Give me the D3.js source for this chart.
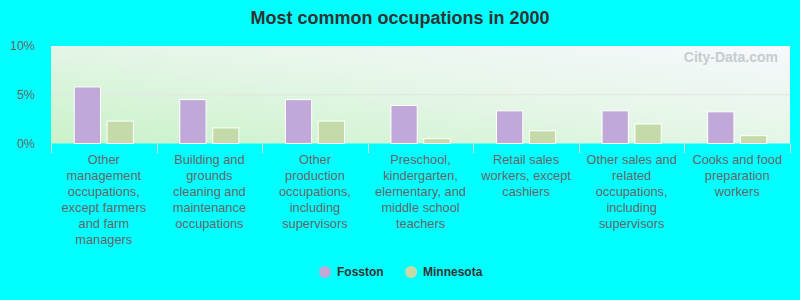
<!DOCTYPE html>
<html><head><meta charset="utf-8">
<script src="https://cdn.jsdelivr.net/npm/d3@7"></script>
<style>
html,body{margin:0;padding:0;background:#00ffff;}
svg{display:block;font-family:"Liberation Sans",Arial,sans-serif;}
</style></head>
<body>
<svg id="chart" width="800" height="300"></svg>
<script>
const title = "Most common occupations in 2000";
const categories = [
  ["Other","management","occupations,","except farmers","and farm","managers"],
  ["Building and","grounds","cleaning and","maintenance","occupations"],
  ["Other","production","occupations,","including","supervisors"],
  ["Preschool,","kindergarten,","elementary, and","middle school","teachers"],
  ["Retail sales","workers, except","cashiers"],
  ["Other sales and","related","occupations,","including","supervisors"],
  ["Cooks and food","preparation","workers"]
];
const seriesNames = ["Fosston","Minnesota"];
const fosston   = [5.8, 4.5, 4.5, 3.9, 3.35, 3.35, 3.25];
const minnesota = [2.3, 1.6, 2.3, 0.5, 1.3, 2.0, 0.8];
const yTicks = [0, 5, 10];
const colors = ["#c0a9d9","#c5daa9"];

const svg = d3.select("#chart");
const m = {left:51, right:10, top:46, bottom:157};
const W = 800, H = 300;
const plotW = W - m.left - m.right, plotBottom = 143.5;

const x0 = d3.scaleBand().domain(d3.range(categories.length)).range([m.left, m.left+plotW]).padding(0);
const bw = x0.bandwidth();
const x1 = d3.scaleBand().domain(seriesNames).range([bw*0.22, bw*0.78]).paddingInner(0.2).paddingOuter(0);
const y = d3.scaleLinear().domain([0,10]).range([plotBottom, m.top]);

const defs = svg.append("defs");
const grad = defs.append("linearGradient").attr("id","bg").attr("x1","0%").attr("y1","100%").attr("x2","100%").attr("y2","0%");
grad.append("stop").attr("offset","0%").attr("stop-color","#c9f2c9");
grad.append("stop").attr("offset","55%").attr("stop-color","#e6f6e8");
grad.append("stop").attr("offset","100%").attr("stop-color","#f6f8fd");

svg.append("rect").attr("x",m.left).attr("y",y(10)).attr("width",plotW).attr("height",plotBottom-y(10)).attr("fill","url(#bg)");

// gridline
svg.append("g").selectAll("line").data([5]).join("line")
  .attr("x1",m.left).attr("x2",m.left+plotW).attr("y1",d=>y(d)).attr("y2",d=>y(d))
  .attr("stroke","#e0e6e0").attr("stroke-width",1);

// watermark
svg.append("text").attr("x",m.left+plotW-12).attr("y",62).attr("text-anchor","end")
  .attr("font-size",14).attr("fill","#c6ccd0").attr("font-weight","bold").text("City-Data.com");

// y axis labels
svg.append("g").selectAll("text").data(yTicks).join("text")
  .attr("x",35).attr("y",d=>y(d)).attr("dy","0.35em").attr("text-anchor","end")
  .attr("font-size",12.5).attr("fill","#666").text(d=>d+"%");

// bars
const data = categories.map((c,i)=>({i, vals:[fosston[i], minnesota[i]]}));
const g = svg.append("g");
g.selectAll("g").data(data).join("g").attr("transform",d=>`translate(${x0(d.i)},0)`)
  .selectAll("rect").data(d=>d.vals.map((v,k)=>({k,v}))).join("rect")
  .attr("x",d=>x1(seriesNames[d.k])).attr("width",x1.bandwidth())
  .attr("y",d=>y(d.v)).attr("height",d=>plotBottom-y(d.v))
  .attr("fill",d=>colors[d.k]).attr("stroke","#fff").attr("stroke-width",1);

// x ticks
const tickPos = d3.range(categories.length+1).map(i=>m.left + i*bw);
svg.append("g").selectAll("line").data(tickPos).join("line")
  .attr("x1",d=>Math.round(d)+0.5).attr("x2",d=>Math.round(d)+0.5).attr("y1",plotBottom).attr("y2",153)
  .attr("stroke","#dde","stroke-width",1);

// x labels
const lab = svg.append("g").selectAll("text").data(categories).join("text")
  .attr("text-anchor","middle").attr("font-size",12.8).attr("fill","#666")
  .attr("transform",(d,i)=>`translate(${x0(i)+bw/2},163.5)`);
lab.selectAll("tspan").data(d=>d).join("tspan").attr("x",0).attr("y",(d,j)=>j*16).text(d=>d);

// title
svg.append("text").attr("x",400).attr("y",24).attr("text-anchor","middle")
  .attr("font-size",18).attr("font-weight","bold").attr("fill","#333").text(title);

// legend
const leg = svg.append("g").selectAll("g").data(seriesNames).join("g")
  .attr("transform",(d,i)=>`translate(${[325,411][i]},272)`);
leg.append("circle").attr("r",6).attr("fill",(d,i)=>colors[i]);
leg.append("text").attr("x",12).attr("dy","0.35em").attr("font-size",12).attr("font-weight","bold").attr("fill","#333").text(d=>d);
</script>
</body></html>
